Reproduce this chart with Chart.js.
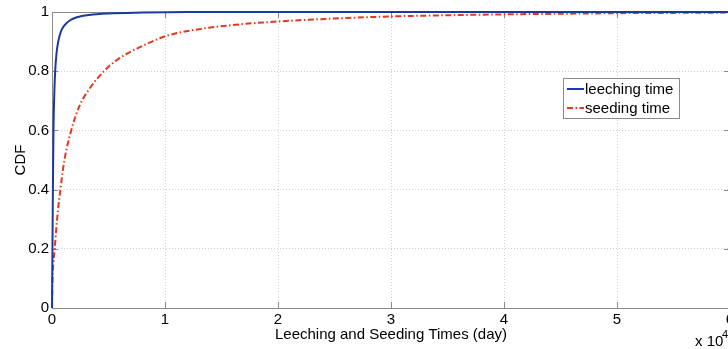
<!DOCTYPE html>
<html>
<head>
<meta charset="utf-8">
<script src="https://cdn.jsdelivr.net/npm/chart.js@4"></script>
<style>
  html, body { margin: 0; padding: 0; background: #fff; }
  #wrap { width: 728px; height: 349px; overflow: hidden; }
</style>
</head>
<body>
<div id="wrap"><canvas id="c" width="748" height="349"></canvas></div>
<script>
// x in units of 10^4 days
const leechX = [0, 0.004, 0.008, 0.013, 0.02, 0.028, 0.04, 0.055, 0.08, 0.11, 0.16, 0.22, 0.33, 0.5, 0.8, 1.2, 6];
const leechY = [0, 0.2, 0.4, 0.6, 0.72, 0.8, 0.86, 0.9, 0.935, 0.955, 0.972, 0.982, 0.99, 0.995, 0.998, 1, 1];
const seedX = [0, 0.005, 0.012, 0.024, 0.045, 0.074, 0.11, 0.17, 0.24, 0.33, 0.46, 0.6, 0.8, 1.0, 1.3, 1.6, 2.0, 2.5, 3.0, 3.5, 4.0, 4.5, 5.0, 5.5, 6.0];
const seedY = [0, 0.1, 0.15, 0.2, 0.3, 0.4, 0.5, 0.6, 0.68, 0.74, 0.8, 0.845, 0.885, 0.918, 0.942, 0.956, 0.968, 0.978, 0.985, 0.989, 0.992, 0.994, 0.996, 0.997, 0.998];
const seriesNames = ["leeching time", "seeding time"];
const xTicks = [0, 1, 2, 3, 4, 5, 6];
const yTicks = [0, 0.2, 0.4, 0.6, 0.8, 1];
const yTickLabels = ["0", "0.2", "0.4", "0.6", "0.8", "1"];

const FONT = "'Liberation Sans', Arial, sans-serif";
const pts = (xs, ys) => xs.map((x, i) => ({ x, y: ys[i] }));

const boxPlugin = {
  id: "box",
  beforeDatasetsDraw(chart) {
    const { ctx, chartArea: a, scales } = chart;
    ctx.save();
    ctx.strokeStyle = "#8a8a8a";
    ctx.lineWidth = 1;
    ctx.strokeRect(a.left + 0.5, a.top + 0.5, a.right - a.left, a.bottom - a.top);
    ctx.beginPath();
    xTicks.forEach(v => {
      const px = Math.round(scales.x.getPixelForValue(v)) + 0.5;
      ctx.moveTo(px, a.bottom); ctx.lineTo(px, a.bottom - 6);
      ctx.moveTo(px, a.top); ctx.lineTo(px, a.top + 6);
    });
    yTicks.forEach(v => {
      const py = Math.round(scales.y.getPixelForValue(v)) + 0.5;
      ctx.moveTo(a.left, py); ctx.lineTo(a.left + 6, py);
      ctx.moveTo(a.right, py); ctx.lineTo(a.right - 6, py);
    });
    ctx.stroke();
    ctx.restore();
  },
  afterDraw(chart) {
    const { ctx } = chart;
    ctx.save();
    // exponent label
    ctx.fillStyle = "#000";
    ctx.font = "15px " + FONT;
    ctx.textBaseline = "alphabetic";
    ctx.fillText("x 10", 695, 346);
    ctx.font = "11px " + FONT;
    ctx.fillText("4", 722, 338);
    // legend
    const lx = 563, ly = 78, lw = 116, lh = 40;
    ctx.fillStyle = "#fff";
    ctx.fillRect(lx, ly, lw, lh);
    ctx.strokeStyle = "#8a8a8a";
    ctx.lineWidth = 1;
    ctx.strokeRect(lx + 0.5, ly + 0.5, lw, lh);
    chart.data.datasets.forEach((ds, i) => {
      const cy = ly + 11 + i * 19;
      ctx.beginPath();
      ctx.strokeStyle = ds.borderColor;
      ctx.lineWidth = ds.borderWidth;
      ctx.setLineDash(ds.borderDash || []);
      ctx.moveTo(567, cy); ctx.lineTo(584, cy);
      ctx.stroke();
      ctx.setLineDash([]);
      ctx.fillStyle = "#000";
      ctx.font = "15px " + FONT;
      ctx.textBaseline = "middle";
      ctx.fillText(ds.label, 585, cy + 1);
    });
    ctx.restore();
  }
};

new Chart(document.getElementById("c"), {
  type: "line",
  data: {
    datasets: [
      {
        label: seriesNames[0],
        data: pts(leechX, leechY),
        borderColor: "#1c3a9e",
        borderWidth: 2,
        pointRadius: 0,
        cubicInterpolationMode: "monotone",
      },
      {
        label: seriesNames[1],
        data: pts(seedX, seedY),
        borderColor: "#e2381e",
        borderWidth: 2,
        borderDash: [6, 2.5, 1.5, 2.5],
        pointRadius: 0,
        cubicInterpolationMode: "monotone",
      },
    ],
  },
  options: {
    responsive: false,
    animation: false,
    clip: false,
    layout: { padding: { top: 11, right: 18, left: 0, bottom: 0 } },
    plugins: { legend: { display: false }, tooltip: { enabled: false } },
    scales: {
      x: {
        type: "linear",
        min: 0,
        max: 6,
        afterFit: (s) => { s.height = 41; },
        afterBuildTicks: (s) => { s.ticks = xTicks.map(v => ({ value: v })); },
        ticks: { color: "#000", font: { family: FONT, size: 15 }, padding: 3, maxRotation: 0,
          callback: (v) => String(v) },
        grid: { color: "#cfcfcf", drawTicks: false },
        border: { display: false, dash: [1, 2] },
        title: {
          display: true,
          text: "Leeching and Seeding Times (day)",
          color: "#000",
          font: { family: FONT, size: 15 },
          padding: { top: 0, bottom: 5 },
        },
      },
      y: {
        min: 0,
        max: 1,
        afterFit: (s) => { s.width = 52; },
        afterBuildTicks: (s) => { s.ticks = yTicks.map(v => ({ value: v })); },
        ticks: { color: "#000", font: { family: FONT, size: 15 }, padding: 3,
          callback: (v, i) => yTickLabels[i] },
        grid: { color: "#cfcfcf", drawTicks: false },
        border: { display: false, dash: [1, 2] },
        title: {
          display: true,
          text: "CDF",
          color: "#000",
          font: { family: FONT, size: 15 },
          padding: { top: 12, bottom: 0 },
        },
      },
    },
  },
  plugins: [boxPlugin],
});
</script>
</body>
</html>
